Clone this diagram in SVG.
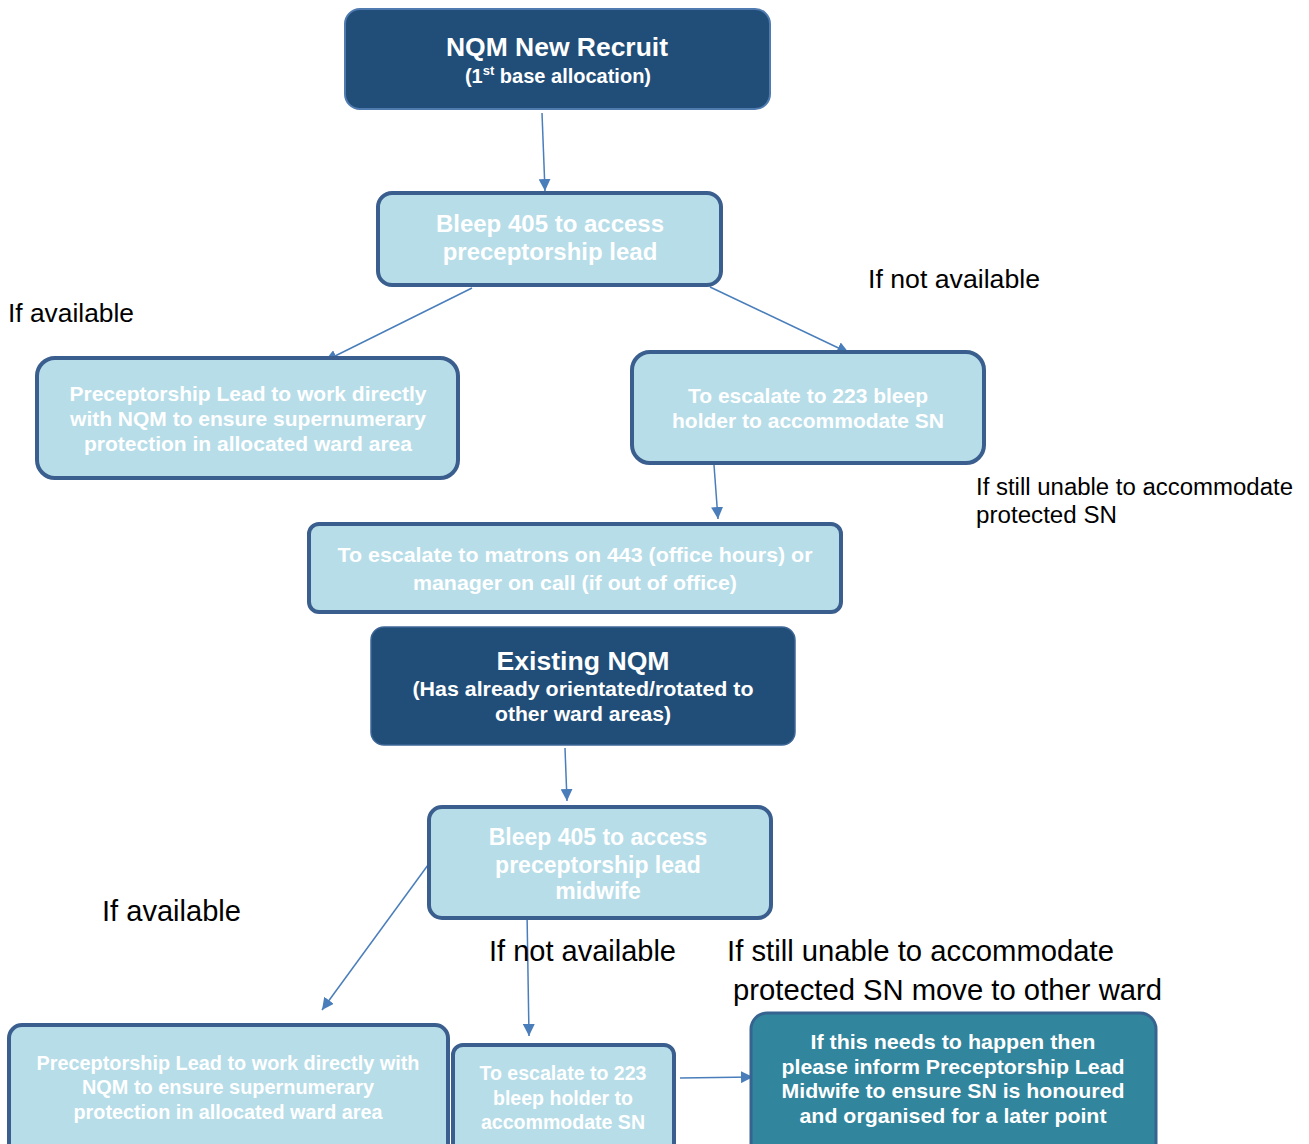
<svg xmlns="http://www.w3.org/2000/svg" width="1309" height="1144" viewBox="0 0 1309 1144">
<defs>
<marker id="ah" viewBox="0 0 10 10" refX="10" refY="5" markerWidth="12" markerHeight="12" markerUnits="userSpaceOnUse" orient="auto">
<path d="M0,0 L10,5 L0,10 z" fill="#4a7ebb"/>
</marker>
<style>
.dark{fill:#214e78;stroke:#4f7bb0;stroke-width:2}
.light{fill:#b7dde8;stroke:#3a5f8f;stroke-width:4}
.teal{fill:#31859c;stroke:#36638f;stroke-width:3}
.t{font-family:"Liberation Sans",Arial,sans-serif;font-weight:bold;fill:#ffffff;text-anchor:middle}
.lab{font-family:"Liberation Sans",Arial,sans-serif;fill:#000000}
.c{stroke:#4a7ebb;stroke-width:1.5;fill:none;marker-end:url(#ah)}
</style>
</defs>
<rect width="1309" height="1144" fill="#ffffff"/>
<g id="connectors">
<line class="c" x1="542" y1="113" x2="545" y2="191"/>
<line class="c" x1="472" y1="288" x2="325" y2="361"/>
<line class="c" x1="710" y1="287" x2="849" y2="353"/>
<line class="c" x1="714" y1="465" x2="718" y2="519"/>
<line class="c" x1="565" y1="748" x2="567" y2="801"/>
<line class="c" x1="428" y1="865" x2="322" y2="1010"/>
<line class="c" x1="527" y1="912" x2="529" y2="1036"/>
<line class="c" x1="680" y1="1078" x2="753" y2="1077"/>
</g>
<g id="n1">
<rect class="dark" x="345" y="9" width="425" height="100" rx="15"/>
<text class="t" x="557" y="56" font-size="25" textLength="222" lengthAdjust="spacingAndGlyphs">NQM New Recruit</text>
<text class="t" x="558" y="83" font-size="20">(1<tspan font-size="13" dy="-8">st</tspan><tspan dy="8"> base allocation)</tspan></text>
</g>
<g id="n2">
<rect class="light" x="378" y="193" width="343" height="92" rx="14"/>
<text class="t" x="550" y="232" font-size="24">Bleep 405 to access</text>
<text class="t" x="550" y="260" font-size="24">preceptorship lead</text>
</g>
<g id="n3">
<rect class="light" x="37" y="358" width="421" height="120" rx="18"/>
<text class="t" x="248" y="401" font-size="21">Preceptorship Lead to work directly</text>
<text class="t" x="248" y="426" font-size="21">with NQM to ensure supernumerary</text>
<text class="t" x="248" y="451" font-size="21">protection in allocated ward area</text>
</g>
<g id="n4">
<rect class="light" x="632" y="352" width="352" height="111" rx="18"/>
<text class="t" x="808" y="403" font-size="21">To escalate to 223 bleep</text>
<text class="t" x="808" y="428" font-size="21">holder to accommodate SN</text>
</g>
<g id="n5">
<rect class="light" x="309" y="524" width="532" height="88" rx="10" stroke-width="3"/>
<text class="t" x="575" y="562" font-size="21" textLength="475" lengthAdjust="spacingAndGlyphs">To escalate to matrons on 443 (office hours) or</text>
<text class="t" x="575" y="590" font-size="21" textLength="324" lengthAdjust="spacingAndGlyphs">manager on call (if out of office)</text>
</g>
<g id="n6">
<rect x="371" y="627" width="424" height="118" rx="13" fill="#214e78" stroke="#3e6796" stroke-width="1.5"/>
<text class="t" x="583" y="670" font-size="26" textLength="173" lengthAdjust="spacingAndGlyphs">Existing NQM</text>
<text class="t" x="583" y="696" font-size="20" textLength="341" lengthAdjust="spacingAndGlyphs">(Has already orientated/rotated to</text>
<text class="t" x="583" y="721" font-size="20" textLength="176" lengthAdjust="spacingAndGlyphs">other ward areas)</text>
</g>
<g id="n7">
<rect class="light" x="429" y="807" width="342" height="111" rx="13" stroke-width="3"/>
<text class="t" x="598" y="845" font-size="23">Bleep 405 to access</text>
<text class="t" x="598" y="873" font-size="23">preceptorship lead</text>
<text class="t" x="598" y="899" font-size="23">midwife</text>
</g>
<g id="n8">
<rect class="light" x="9" y="1025" width="439" height="140" rx="13" stroke-width="3"/>
<text class="t" x="228" y="1070" font-size="20" textLength="383" lengthAdjust="spacingAndGlyphs">Preceptorship Lead to work directly with</text>
<text class="t" x="228" y="1094" font-size="20" textLength="292" lengthAdjust="spacingAndGlyphs">NQM to ensure supernumerary</text>
<text class="t" x="228" y="1119" font-size="20" textLength="309" lengthAdjust="spacingAndGlyphs">protection in allocated ward area</text>
</g>
<g id="n9">
<rect class="light" x="453" y="1045" width="221" height="120" rx="10" stroke-width="3"/>
<text class="t" x="563" y="1080" font-size="20" textLength="167" lengthAdjust="spacingAndGlyphs">To escalate to 223</text>
<text class="t" x="563" y="1105" font-size="20" textLength="140" lengthAdjust="spacingAndGlyphs">bleep holder to</text>
<text class="t" x="563" y="1129" font-size="20" textLength="164" lengthAdjust="spacingAndGlyphs">accommodate SN</text>
</g>
<g id="n10">
<rect class="teal" x="751" y="1013" width="405" height="150" rx="16"/>
<text class="t" x="953" y="1049" font-size="21" textLength="285" lengthAdjust="spacingAndGlyphs">If this needs to happen then</text>
<text class="t" x="953" y="1074" font-size="21" textLength="343" lengthAdjust="spacingAndGlyphs">please inform Preceptorship Lead</text>
<text class="t" x="953" y="1098" font-size="21" textLength="343" lengthAdjust="spacingAndGlyphs">Midwife to ensure SN is honoured</text>
<text class="t" x="953" y="1123" font-size="21" textLength="307" lengthAdjust="spacingAndGlyphs">and organised for a later point</text>
</g>
<g id="labels">
<text class="lab" x="868" y="288" font-size="26" textLength="172" lengthAdjust="spacingAndGlyphs">If not available</text>
<text class="lab" x="8" y="322" font-size="26" textLength="126" lengthAdjust="spacingAndGlyphs">If available</text>
<text class="lab" x="976" y="495" font-size="23" textLength="317" lengthAdjust="spacingAndGlyphs">If still unable to accommodate</text>
<text class="lab" x="976" y="523" font-size="23" textLength="141" lengthAdjust="spacingAndGlyphs">protected SN</text>
<text class="lab" x="102" y="921" font-size="29" textLength="139" lengthAdjust="spacingAndGlyphs">If available</text>
<text class="lab" x="489" y="961" font-size="29" textLength="187" lengthAdjust="spacingAndGlyphs">If not available</text>
<text class="lab" x="727" y="961" font-size="29" textLength="387" lengthAdjust="spacingAndGlyphs">If still unable to accommodate</text>
<text class="lab" x="733" y="1000" font-size="29" textLength="429" lengthAdjust="spacingAndGlyphs">protected SN move to other ward</text>
</g>
</svg>
